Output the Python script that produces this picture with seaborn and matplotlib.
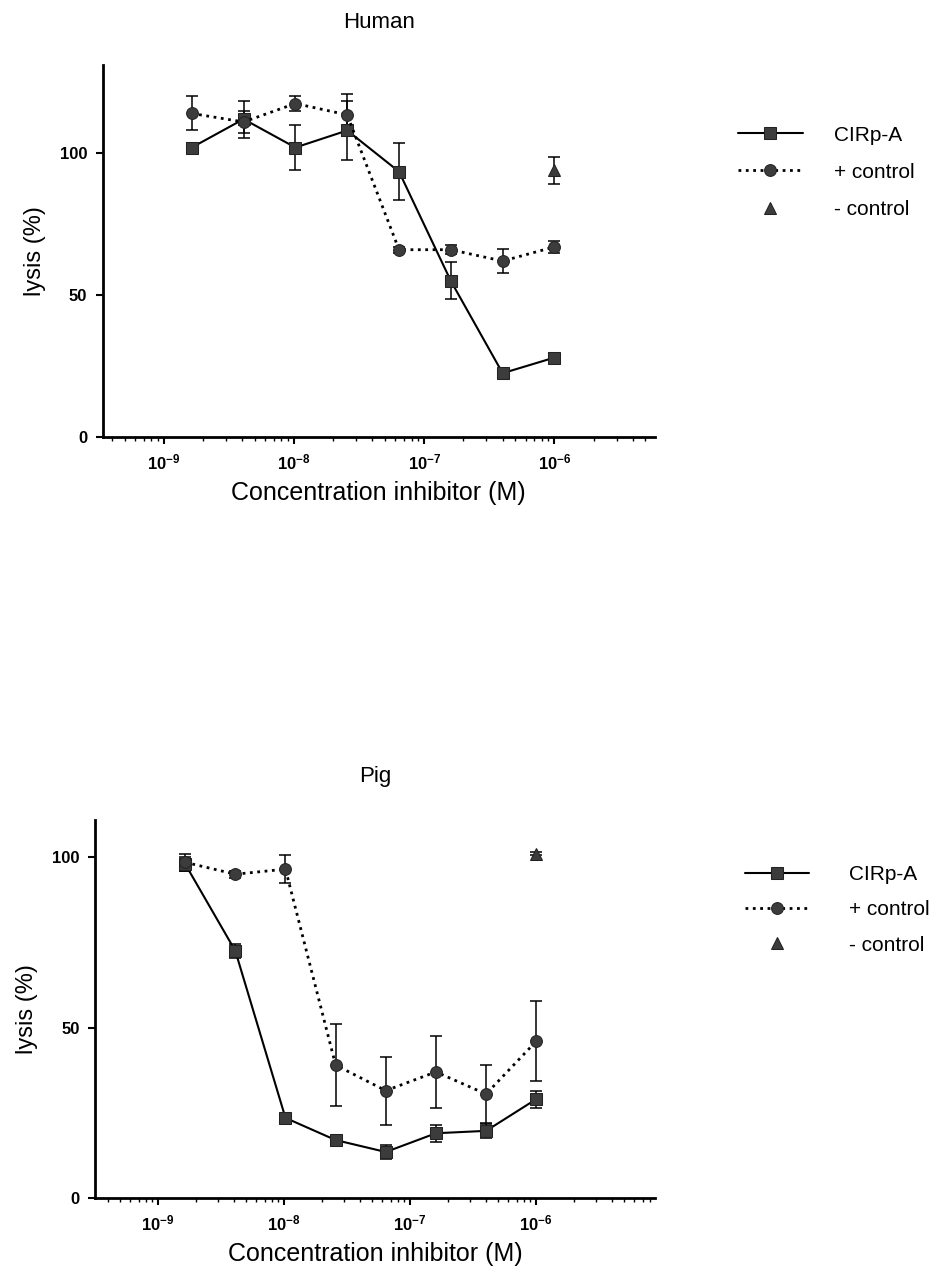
import numpy as np
import pandas as pd
import matplotlib
matplotlib.use("Agg")
import matplotlib.pyplot as plt
import matplotlib.ticker as mticker
import seaborn as sns

# ---------------- data ----------------
conc = [1.6384e-9, 4.096e-9, 1.024e-8, 2.56e-8, 6.4e-8, 1.6e-7, 4e-7, 1e-6]
neg_conc = [1e-6]

human_cirp = [102, 112, 102, 108, 93.5, 55, 22.5, 28]
human_cirp_err = [1.5, 6.5, 8, 10.5, 10, 6.5, 1.5, 1.5]
human_pos = [114, 111, 117.5, 113.5, 66, 66, 62, 67]
human_pos_err = [6, 4, 2.5, 7.5, 1, 1.5, 4.2, 2]
human_neg = [94]
human_neg_err = [4.8]

pig_cirp = [98, 72.5, 23.5, 17, 13.5, 19, 19.7, 29]
pig_cirp_err = [2, 2, 1, 1, 2, 2.5, 2, 2.5]
pig_pos = [98.5, 95, 96.5, 39, 31.5, 37, 30.5, 46]
pig_pos_err = [2.5, 1, 4, 12, 10, 10.5, 8.5, 11.7]
pig_neg = [101]
pig_neg_err = [0.5]

series_labels = ["CIRp-A", "+ control", "- control"]
titles = ["Human", "Pig"]
xtick_vals = [1e-9, 1e-8, 1e-7, 1e-6]
xtick_labels = [r"$\mathbf{10^{-9}}$", r"$\mathbf{10^{-8}}$",
                r"$\mathbf{10^{-7}}$", r"$\mathbf{10^{-6}}$"]
ytick_vals = [0, 50, 100]
ytick_labels = ["0", "50", "100"]
xlabel = "Concentration inhibitor (M)"
ylabel = "lysis (%)"

# ---------------- style ----------------
sns.set_theme(style="ticks")
plt.rcParams["font.family"] = ["Liberation Sans", "DejaVu Sans"]
plt.rcParams["mathtext.fontset"] = "custom"
plt.rcParams["mathtext.rm"] = "Liberation Sans"
plt.rcParams["mathtext.bf"] = "Liberation Sans:bold"
for k in ["text.color", "axes.labelcolor", "xtick.color", "ytick.color", "axes.edgecolor"]:
    plt.rcParams[k] = "black"

fig = plt.figure(figsize=(9.42, 12.78), dpi=100)
ax_top = fig.add_axes([0.109, 0.658, 0.586, 0.291])
ax_bot = fig.add_axes([0.101, 0.0626, 0.594, 0.296])

panels = [
    (ax_top, titles[0], human_cirp, human_cirp_err, human_pos, human_pos_err,
     human_neg, human_neg_err, (10**-9.47, 10**-5.23), (0, 131), (1.136, 0.86), 1.5, 0.87),
    (ax_bot, titles[1], pig_cirp, pig_cirp_err, pig_pos, pig_pos_err,
     pig_neg, pig_neg_err, (10**-9.5, 10**-5.06), (0, 111), (1.146, 0.902), 1.9, 0.78),
]

mface = "#3c3c3c"
for (ax, title, cirp, cirp_e, pos, pos_e, neg, neg_e, xlim, ylim, leg_anchor, tpad, lsp) in panels:
    ax.set_xscale("log")
    df_c = pd.DataFrame({"x": conc, "y": cirp})
    df_p = pd.DataFrame({"x": conc, "y": pos})
    df_n = pd.DataFrame({"x": neg_conc, "y": neg})

    ax.errorbar(conc, cirp, yerr=cirp_e, fmt="none", ecolor="black",
                elinewidth=1.1, capsize=4, capthick=1.1, zorder=2)
    ax.errorbar(conc, pos, yerr=pos_e, fmt="none", ecolor="black",
                elinewidth=1.1, capsize=4, capthick=1.1, zorder=2)
    ax.errorbar(neg_conc, neg, yerr=neg_e, fmt="none", ecolor="black",
                elinewidth=1.1, capsize=4, capthick=1.1, zorder=2)

    sns.lineplot(data=df_c, x="x", y="y", ax=ax, color="black", linewidth=1.5,
                 linestyle="-", marker="s", markersize=8.5, markerfacecolor=mface,
                 markeredgecolor="#222222", label=series_labels[0], zorder=3)
    sns.lineplot(data=df_p, x="x", y="y", ax=ax, color="black", linewidth=2.0,
                 linestyle=":", marker="o", markersize=8.5, markerfacecolor=mface,
                 markeredgecolor="#222222", label=series_labels[1], zorder=3)
    sns.lineplot(data=df_n, x="x", y="y", ax=ax, color="black", linewidth=0,
                 marker="^", markersize=8, markerfacecolor=mface,
                 markeredgecolor="#222222", label=series_labels[2], zorder=3)

    ax.set_xlim(*xlim)
    ax.set_ylim(*ylim)
    ax.set_xticks(xtick_vals)
    ax.set_xticklabels(xtick_labels)
    ax.xaxis.set_minor_locator(mticker.LogLocator(base=10, subs=np.arange(2, 10)))
    ax.xaxis.set_minor_formatter(mticker.NullFormatter())
    ax.set_yticks(ytick_vals)
    ax.set_yticklabels(ytick_labels, fontweight="bold")
    ax.tick_params(axis="both", which="major", labelsize=12, length=5, width=1.5,
                   direction="out", pad=6)
    ax.tick_params(axis="x", which="minor", length=3, width=1.0)
    for s in ["top", "right"]:
        ax.spines[s].set_visible(False)
    for s in ["left", "bottom"]:
        ax.spines[s].set_linewidth(2.0)
        ax.spines[s].set_color("black")

    ax.set_title(title, fontsize=16, pad=27)
    ax.set_xlabel(xlabel, fontsize=18, labelpad=6)
    ax.set_ylabel(ylabel, fontsize=17, labelpad=10)

    leg = ax.legend(loc="upper left", bbox_to_anchor=leg_anchor, frameon=False,
                    fontsize=15, handlelength=3.1, handletextpad=tpad,
                    labelspacing=lsp, borderaxespad=0)

fig.savefig("out.png", dpi=100)
